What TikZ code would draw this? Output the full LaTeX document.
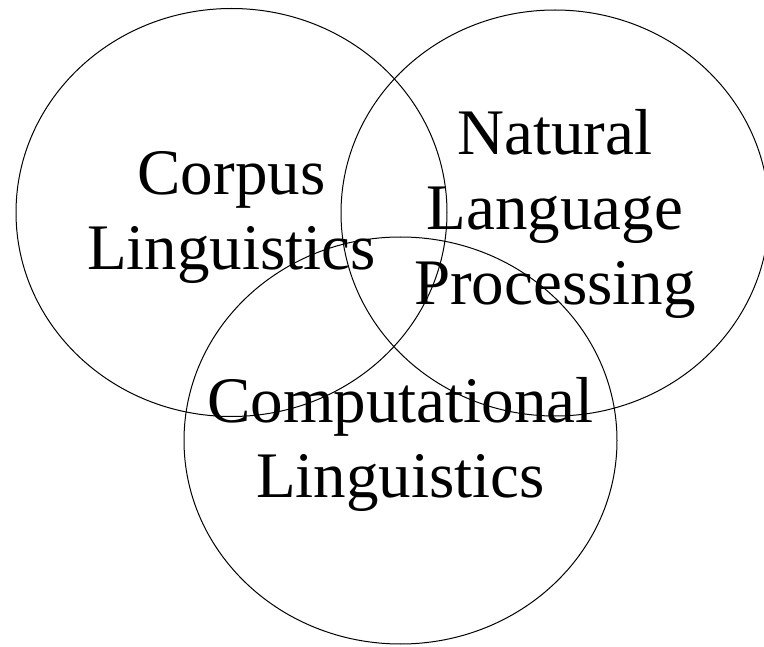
\documentclass[tikz,border=0pt]{standalone}
\usepackage{fontspec}
\setmainfont{Liberation Serif}
\begin{document}
\begin{tikzpicture}[x=1pt,y=-1pt,
  ring/.style={draw=black,line width=1pt},
  label/.style={font=\fontsize{65}{75}\selectfont,align=center,inner sep=0pt,anchor=base}]
\useasboundingbox (0,0) rectangle (764,647);
\draw[ring] (231.5,212.5) ellipse [x radius=215.5pt, y radius=204pt];
\draw[ring] (555,213) ellipse [x radius=214pt, y radius=203pt];
\draw[ring] (400.5,440.5) ellipse [x radius=216.5pt, y radius=203.5pt];
\node[label] (corpus) at (231.5,270) {Corpus\\Linguistics};
\node[label] (nlp) at (555,305) {Natural\\Language\\Processing};
\node[label] (comp) at (400.5,497) {Computational\\Linguistics};
\end{tikzpicture}
\end{document}
